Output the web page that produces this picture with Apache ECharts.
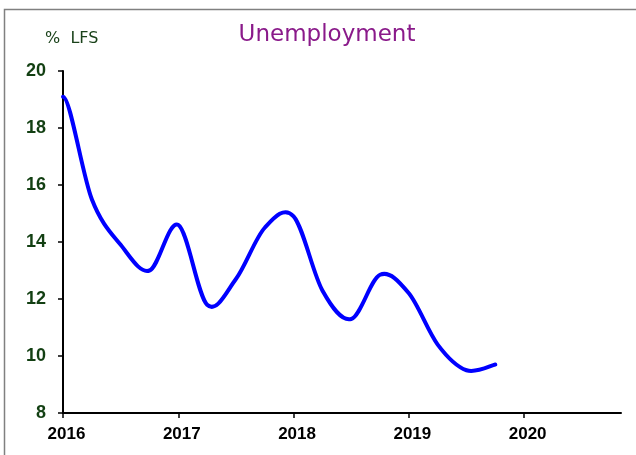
<!DOCTYPE html>
<html>
<head>
<meta charset="utf-8">
<title>Unemployment</title>
<script src="https://cdn.jsdelivr.net/npm/echarts@6/dist/echarts.min.js"></script>
<style>
  html, body { margin: 0; padding: 0; background: #ffffff; }
  #chart { width: 636px; height: 455px; }
</style>
</head>
<body>
<div id="chart"></div>
<script>
// Quarterly LFS unemployment rate, % of labour force
var quarters = ['2016Q1', '2016Q2', '2016Q3', '2016Q4',
                '2017Q1', '2017Q2', '2017Q3', '2017Q4',
                '2018Q1', '2018Q2', '2018Q3', '2018Q4',
                '2019Q1', '2019Q2', '2019Q3', '2019Q4'];
var unemployment = [19.1, 15.5, 13.9, 13.0,
                    14.6, 11.8, 12.7, 14.5,
                    14.9, 12.3, 11.3, 12.85,
                    12.2, 10.4, 9.5, 9.7];
var yearTicks = [2016, 2017, 2018, 2019, 2020];
var yTicks = [8, 10, 12, 14, 16, 18, 20];

// place each quarter at the start of its period on a continuous year scale
function quarterToYear(q) {
  var year = parseInt(q.slice(0, 4), 10);
  var n = parseInt(q.slice(5), 10);
  return year + (n - 1) / 4;
}
var seriesData = quarters.map(function (q, i) {
  return [quarterToYear(q), unemployment[i]];
});

// Smooth curve through every point (Catmull-Rom style tangents),
// with the points mapped to pixels by the chart's own axes.
// The opening point leaves with a level tangent.
function renderCurve(params, api) {
  if (params.dataIndex !== 0) return null;
  var pts = seriesData.map(function (d) { return api.coord(d); });
  var n = pts.length;
  var path = 'M' + pts[0][0] + ' ' + pts[0][1];
  for (var i = 0; i < n - 1; i++) {
    var p0 = pts[Math.max(i - 1, 0)];
    var p1 = pts[i];
    var p2 = pts[i + 1];
    var p3 = pts[Math.min(i + 2, n - 1)];
    var c1x, c1y;
    if (i === 0) {
      c1x = p1[0] + (p2[0] - p1[0]) / 4;
      c1y = p1[1];
    } else {
      c1x = p1[0] + (p2[0] - p0[0]) / 6;
      c1y = p1[1] + (p2[1] - p0[1]) / 6;
    }
    var c2x = p2[0] - (p3[0] - p1[0]) / 6;
    var c2y = p2[1] - (p3[1] - p1[1]) / 6;
    path += ' C' + c1x + ' ' + c1y + ' ' + c2x + ' ' + c2y + ' ' + p2[0] + ' ' + p2[1];
  }
  return {
    type: 'path',
    shape: { pathData: path },
    style: { fill: 'none', stroke: '#0000ff', lineWidth: 4, lineJoin: 'round', lineCap: 'round' }
  };
}

var chart = echarts.init(document.getElementById('chart'), null, { renderer: 'canvas' });

chart.setOption({
  backgroundColor: '#ffffff',
  animation: false,
  graphic: [
    {
      type: 'rect',
      shape: { x: 4.5, y: 9.5, width: 700, height: 500 },
      style: { fill: 'none', stroke: '#808080', lineWidth: 1.5 },
      silent: true
    },
    {
      type: 'text',
      style: {
        x: 327, y: 35.5,
        text: 'Unemployment',
        font: '23px "DejaVu Sans", sans-serif',
        fill: '#8a1a8a',
        textAlign: 'center',
        textVerticalAlign: 'middle'
      }
    },
    {
      type: 'text',
      style: {
        x: 45, y: 39,
        text: '%  LFS',
        font: '16px "DejaVu Sans", sans-serif',
        fill: '#1a421a',
        textAlign: 'left',
        textVerticalAlign: 'middle'
      }
    }
  ],
  grid: { left: 63, top: 71, right: 15, bottom: 42, containLabel: false },
  xAxis: {
    type: 'value',
    min: 2016,
    max: 2020.84,
    interval: 1,
    splitLine: { show: false },
    axisLine: { show: true, onZero: false, lineStyle: { color: '#000000', width: 2 } },
    axisTick: {
      show: true, inside: false, length: 5,
      customValues: yearTicks,
      lineStyle: { color: '#000000', width: 1.5 }
    },
    axisLabel: {
      customValues: yearTicks,
      margin: 13,
      padding: [0, 0, 0, 7],
      color: '#000000',
      fontFamily: '"Liberation Sans", Arial, sans-serif',
      fontWeight: 'bold',
      fontSize: 17,
      formatter: function (v) { return String(Math.round(v)); }
    }
  },
  yAxis: {
    type: 'value',
    min: 8,
    max: 20,
    interval: 2,
    splitLine: { show: false },
    axisLine: { show: true, onZero: false, lineStyle: { color: '#000000', width: 2 } },
    axisTick: {
      show: true, inside: false, length: 5,
      customValues: yTicks,
      lineStyle: { color: '#000000', width: 1.5 }
    },
    axisLabel: {
      customValues: yTicks,
      margin: 17,
      color: '#123f12',
      fontFamily: '"Liberation Sans", Arial, sans-serif',
      fontWeight: 'bold',
      fontSize: 18
    }
  },
  series: [
    {
      name: 'Unemployment',
      type: 'custom',
      coordinateSystem: 'cartesian2d',
      data: seriesData,
      encode: { x: 0, y: 1 },
      renderItem: renderCurve,
      clip: false
    }
  ]
});
</script>
</body>
</html>
